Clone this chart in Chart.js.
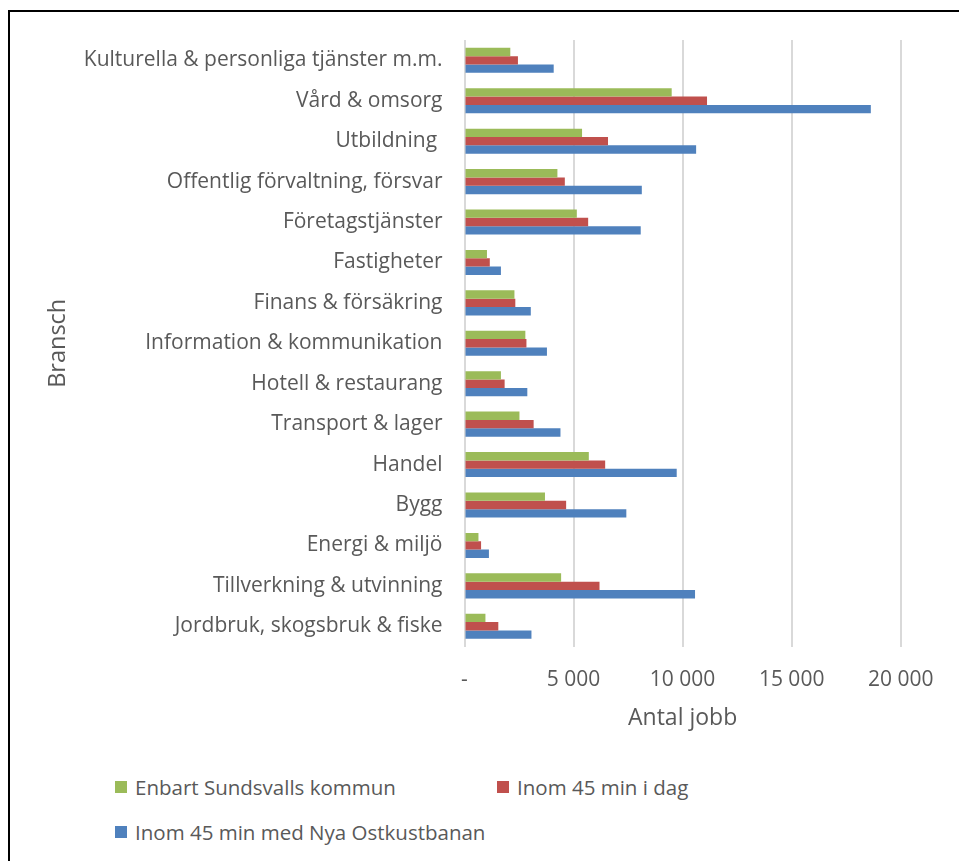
<!DOCTYPE html>
<html>
<head>
<meta charset="utf-8">
<script src="https://cdn.jsdelivr.net/npm/chart.js@4"></script>
<style>
  body { margin: 0; background: #fff; overflow: hidden; }
  #frame { position: absolute; left: 8px; top: 10px; width: 1200px; height: 1200px;
           border-top: 2px solid #000; border-left: 2px solid #000; }
  #chart { position: absolute; left: 0; top: 0; }
  #legend { position: absolute; left: 115px; top: 773px; width: 800px;
            font-family: "Open Sans", sans-serif; font-size: 20.5px; color: #595959; }
  .legend-item { position: absolute; display: flex; align-items: center; white-space: nowrap; }
  .legend-box { width: 12px; height: 12px; margin-right: 8px; }
</style>
</head>
<body>
<div id="frame"></div>
<canvas id="chart" width="959" height="745"></canvas>
<div id="legend"></div>
<script>
// Data
const categories = [
  "Kulturella & personliga tjänster m.m.",
  "Vård & omsorg",
  "Utbildning ",
  "Offentlig förvaltning, försvar",
  "Företagstjänster",
  "Fastigheter",
  "Finans & försäkring",
  "Information & kommunikation",
  "Hotell & restaurang",
  "Transport & lager",
  "Handel",
  "Bygg",
  "Energi & miljö",
  "Tillverkning & utvinning",
  "Jordbruk, skogsbruk & fiske"
];
const seriesNames = [
  "Enbart Sundsvalls kommun",
  "Inom 45 min i dag",
  "Inom 45 min med Nya Ostkustbanan"
];
const sundsvallOnly = [2100, 9500, 5390, 4260, 5150, 1030, 2290, 2790, 1670, 2520, 5700, 3690, 640, 4430, 960];
const within45Today = [2450, 11120, 6580, 4600, 5670, 1160, 2330, 2840, 1840, 3170, 6450, 4660, 760, 6190, 1550];
const within45Ostkust = [4090, 18630, 10620, 8130, 8080, 1670, 3040, 3780, 2880, 4400, 9730, 7420, 1120, 10570, 3070];
const xTicks = [0, 5000, 10000, 15000, 20000];

const colors = ["#9BBB59", "#C0504D", "#4F81BD"];
const textColor = "#595959";
const fontFamily = "'Open Sans', sans-serif";

// ===================================
// CHART
// ===================================
const ctx = document.getElementById("chart");
const chart = new Chart(ctx, {
  type: "bar",
  data: {
    labels: categories,
    datasets: [sundsvallOnly, within45Today, within45Ostkust].map((data, i) => ({
      label: seriesNames[i],
      data: data,
      backgroundColor: colors[i],
      borderWidth: 0,
      categoryPercentage: 0.62,
      barPercentage: 1.0
    }))
  },
  options: {
    indexAxis: "y",
    responsive: false,
    devicePixelRatio: 1,
    animation: false,
    layout: { padding: { top: 40.1, left: 0, right: 58.3, bottom: 0 } },
    plugins: {
      legend: { display: false },
      tooltip: { enabled: false }
    },
    scales: {
      x: {
        min: 0,
        max: 20000,
        afterBuildTicks: (scale) => { scale.ticks = xTicks.map(v => ({ value: v })); },
        afterFit: (scale) => {
          scale.height = 745 - 646.5;
          scale.paddingLeft = 0;
          scale.paddingRight = 0;
        },
        grid: { color: "#D9D9D9", lineWidth: 2, drawTicks: false },
        border: { display: false },
        ticks: {
          padding: 21,
          color: textColor,
          font: { family: fontFamily, size: 21 },
          callback: (v) => v === 0 ? "-" : String(v).replace(/\B(?=(\d{3})+(?!\d))/g, " ")
        },
        title: {
          display: true,
          text: "Antal jobb",
          color: textColor,
          font: { family: fontFamily, size: 23 },
          padding: { top: 0, bottom: 13.2 }
        }
      },
      y: {
        afterFit: (scale) => { scale.width = 464.5; },
        grid: { display: false },
        border: { display: false },
        ticks: {
          padding: 14,
          color: textColor,
          font: { family: fontFamily, size: 21 },
          autoSkip: false
        },
        title: {
          display: true,
          text: "Bransch",
          color: textColor,
          font: { family: fontFamily, size: 23.5 },
          padding: { top: 44, bottom: 0 }
        }
      }
    }
  }
});

// ===================================
// LEGEND (two columns like the original)
// ===================================
const legendPositions = [[0, 0], [382, 0], [0, 45]];
const legendEl = document.getElementById("legend");
chart.data.datasets.forEach((ds, i) => {
  const item = document.createElement("div");
  item.className = "legend-item";
  item.style.left = legendPositions[i][0] + "px";
  item.style.top = legendPositions[i][1] + "px";
  const box = document.createElement("span");
  box.className = "legend-box";
  box.style.background = ds.backgroundColor;
  const label = document.createElement("span");
  label.textContent = ds.label;
  item.appendChild(box);
  item.appendChild(label);
  legendEl.appendChild(item);
});
</script>
</body>
</html>
